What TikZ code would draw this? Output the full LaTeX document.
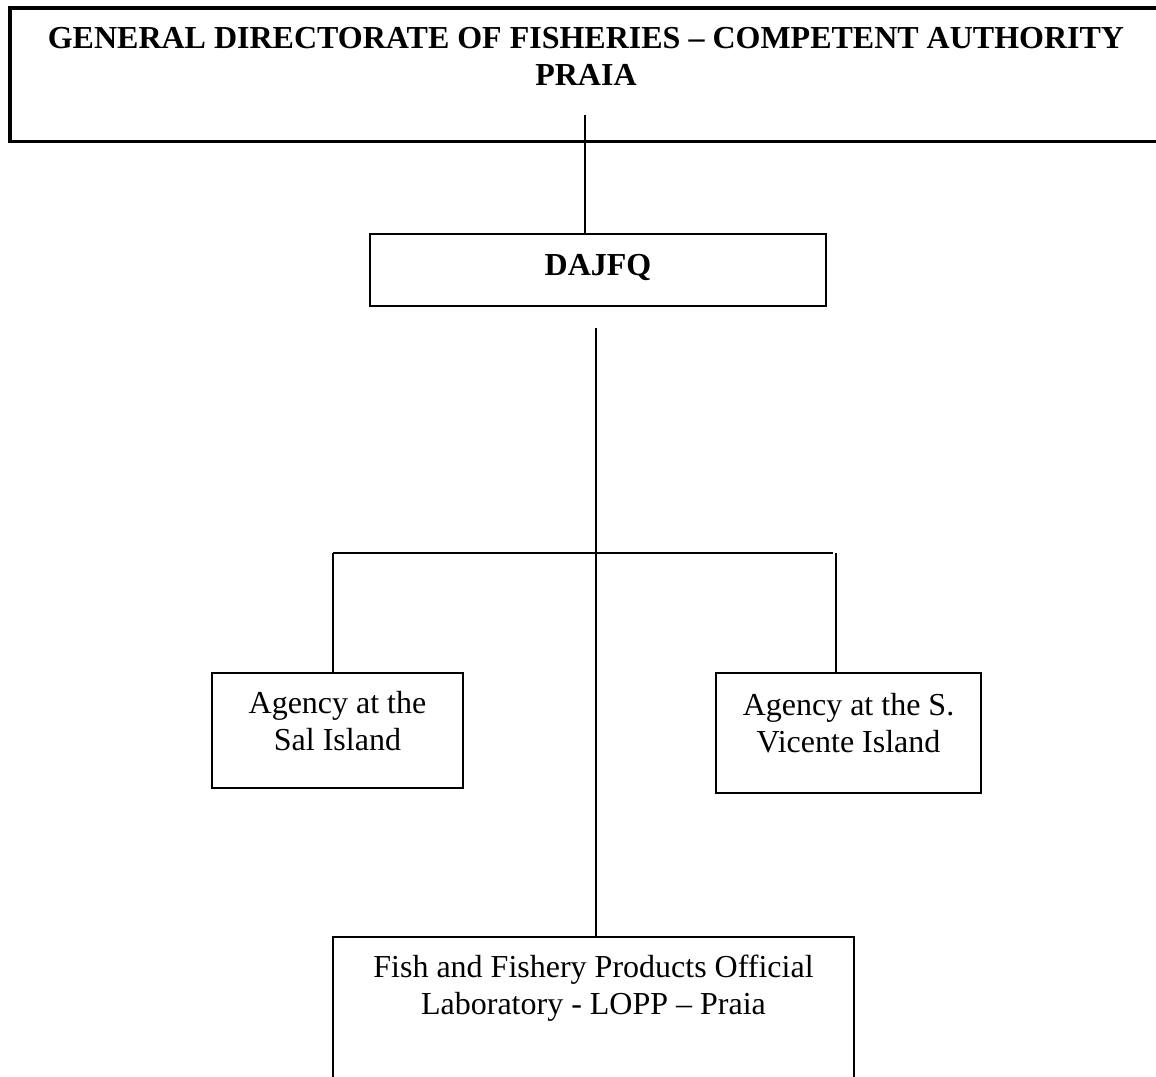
\documentclass[tikz,border=0pt]{standalone}
\usepackage{fontspec}
\setmainfont{Liberation Serif}
\begin{document}
\begin{tikzpicture}[x=0.5pt,y=-0.5pt,
  box/.style={draw=black, line width=1.1pt, inner sep=0pt, fill=white},
  topbox/.style={draw=black, line width=1.8pt, inner sep=0pt},
  link/.style={draw=black, line width=1pt}]
\useasboundingbox (0,0) rectangle (1156,1076);
\clip (0,0) rectangle (1156,1076);
\fill[white] (0,0) rectangle (1156,1076);
\fontsize{16pt}{18.5pt}\selectfont
% top box (right side runs off the page)
\node[topbox] (gdf) at (586,74.75)
  {\parbox[c][66.75pt][t]{576pt}{\centering\bfseries\rule{0pt}{20pt}GENERAL DIRECTORATE OF FISHERIES – COMPETENT AUTHORITY\\PRAIA}};
% DAJFQ
\node[box] (dajfq) at (598,270)
  {\parbox[c][36pt][t]{228pt}{\centering\bfseries\rule{0pt}{20.5pt}DAJFQ}};
% agencies
\node[box] (sal) at (337.5,730.5)
  {\parbox[c][57.5pt][t]{125.5pt}{\centering\rule{0pt}{20pt}Agency at the\\Sal Island}};
\node[box] (svi) at (848.5,733)
  {\parbox[c][60pt][t]{132.5pt}{\centering\rule{0pt}{21pt}Agency at the S.\\Vicente Island}};
% laboratory (bottom runs off the page)
\node[box] (lopp) at (593.5,1020)
  {\parbox[c][83pt][t]{260.5pt}{\centering\rule{0pt}{20pt}Fish and Fishery Products Official\\Laboratory - LOPP – Praia}};
% connectors
\coordinate (c1) at (585,115);
\coordinate (c2) at (596,328);
\coordinate (hl) at (333,553);
\coordinate (hr) at (833,553);
\coordinate (vr) at (836,553);
\draw[link] (c1) -- (c1 |- dajfq.north);
\draw[link] (c2) -- (c2 |- lopp.north);
\draw[link] (hl) -- (hr);
\draw[link] (hl) -- (hl |- sal.north);
\draw[link] (vr) -- (vr |- svi.north);
\end{tikzpicture}
\end{document}
